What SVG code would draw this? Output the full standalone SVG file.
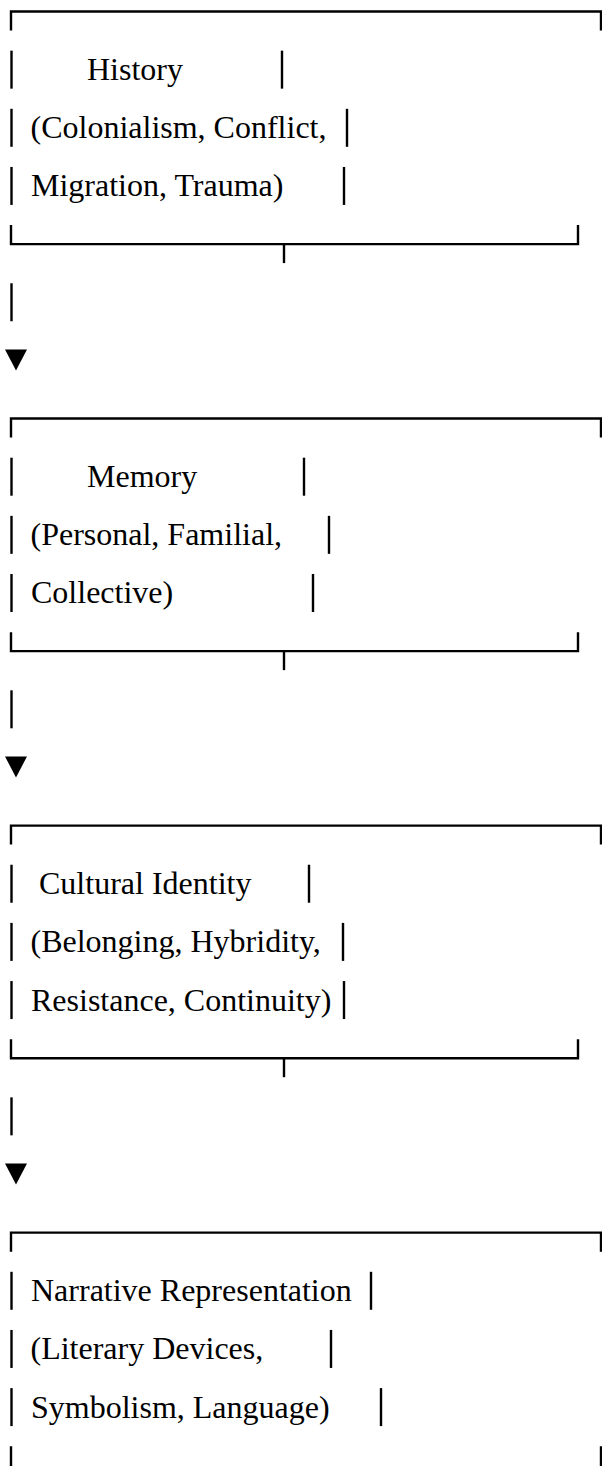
<svg xmlns="http://www.w3.org/2000/svg" width="602" height="1466" viewBox="0 0 602 1466">
<style>
  .bg { fill: #ffffff; }
  .t { font-family: "Times New Roman", Times, "Liberation Serif", "DejaVu Serif", serif; font-size: 32px; fill: #000000; }
  .ln { fill: none; stroke: #000000; stroke-width: 2.4; stroke-linejoin: miter; }
  .ar { fill: #000000; stroke: none; }
</style>
<rect class="bg" x="0" y="0" width="602" height="1466"/>

<g id="node-history" transform="translate(0,11.5)">
  <path class="ln" d="M11,19 V0 H601 V19"/>
  <line class="ln" x1="11.5" y1="39.15" x2="11.5" y2="77.15"/>
  <text class="t" x="87" y="68.65">History</text>
  <line class="ln" x1="282" y1="39.15" x2="282" y2="77.15"/>
  <line class="ln" x1="11.5" y1="97.3" x2="11.5" y2="135.3"/>
  <text class="t" x="30.5" y="126.8">(Colonialism, Conflict,</text>
  <line class="ln" x1="347" y1="97.3" x2="347" y2="135.3"/>
  <line class="ln" x1="11.5" y1="155.45" x2="11.5" y2="193.45"/>
  <text class="t" x="31" y="184.95">Migration, Trauma)</text>
  <line class="ln" x1="344" y1="155.45" x2="344" y2="193.45"/>
  <path class="ln" d="M11,213.6 V232.6 H578 V213.6"/>
  <line class="ln" x1="284" y1="232.6" x2="284" y2="251.6"/>
</g>

<g id="node-memory" transform="translate(0,418.55)">
  <path class="ln" d="M11,19 V0 H601 V19"/>
  <line class="ln" x1="11.5" y1="39.15" x2="11.5" y2="77.15"/>
  <text class="t" x="87" y="68.65">Memory</text>
  <line class="ln" x1="304" y1="39.15" x2="304" y2="77.15"/>
  <line class="ln" x1="11.5" y1="97.3" x2="11.5" y2="135.3"/>
  <text class="t" x="30.5" y="126.8">(Personal, Familial,</text>
  <line class="ln" x1="329" y1="97.3" x2="329" y2="135.3"/>
  <line class="ln" x1="11.5" y1="155.45" x2="11.5" y2="193.45"/>
  <text class="t" x="31" y="184.95">Collective)</text>
  <line class="ln" x1="313" y1="155.45" x2="313" y2="193.45"/>
  <path class="ln" d="M11,213.6 V232.6 H578 V213.6"/>
  <line class="ln" x1="284" y1="232.6" x2="284" y2="251.6"/>
</g>

<g id="node-cultural-identity" transform="translate(0,825.6)">
  <path class="ln" d="M11,19 V0 H601 V19"/>
  <line class="ln" x1="11.5" y1="39.15" x2="11.5" y2="77.15"/>
  <text class="t" x="39" y="68.65">Cultural Identity</text>
  <line class="ln" x1="309" y1="39.15" x2="309" y2="77.15"/>
  <line class="ln" x1="11.5" y1="97.3" x2="11.5" y2="135.3"/>
  <text class="t" x="30.5" y="126.8">(Belonging, Hybridity,</text>
  <line class="ln" x1="343" y1="97.3" x2="343" y2="135.3"/>
  <line class="ln" x1="11.5" y1="155.45" x2="11.5" y2="193.45"/>
  <text class="t" x="31" y="184.95">Resistance, Continuity)</text>
  <line class="ln" x1="344" y1="155.45" x2="344" y2="193.45"/>
  <path class="ln" d="M11,213.6 V232.6 H578 V213.6"/>
  <line class="ln" x1="284" y1="232.6" x2="284" y2="251.6"/>
</g>

<g id="node-narrative" transform="translate(0,1232.65)">
  <path class="ln" d="M11,19 V0 H601 V19"/>
  <line class="ln" x1="11.5" y1="39.15" x2="11.5" y2="77.15"/>
  <text class="t" x="31" y="68.65">Narrative Representation</text>
  <line class="ln" x1="371" y1="39.15" x2="371" y2="77.15"/>
  <line class="ln" x1="11.5" y1="97.3" x2="11.5" y2="135.3"/>
  <text class="t" x="30.5" y="126.8">(Literary Devices,</text>
  <line class="ln" x1="331" y1="97.3" x2="331" y2="135.3"/>
  <line class="ln" x1="11.5" y1="155.45" x2="11.5" y2="193.45"/>
  <text class="t" x="31" y="184.95">Symbolism, Language)</text>
  <line class="ln" x1="381" y1="155.45" x2="381" y2="193.45"/>
  <path class="ln" d="M11,213.6 V236 H601 V213.6"/>
</g>

<g id="connectors">
  <line class="ln" x1="11.5" y1="283.25" x2="11.5" y2="321.25"/>
  <polygon class="ar" points="5,349.4 27,349.4 16,370.4"/>
  <line class="ln" x1="11.5" y1="690.3" x2="11.5" y2="728.3"/>
  <polygon class="ar" points="5,756.45 27,756.45 16,777.45"/>
  <line class="ln" x1="11.5" y1="1097.35" x2="11.5" y2="1135.35"/>
  <polygon class="ar" points="5,1163.5 27,1163.5 16,1184.5"/>
</g>
</svg>
